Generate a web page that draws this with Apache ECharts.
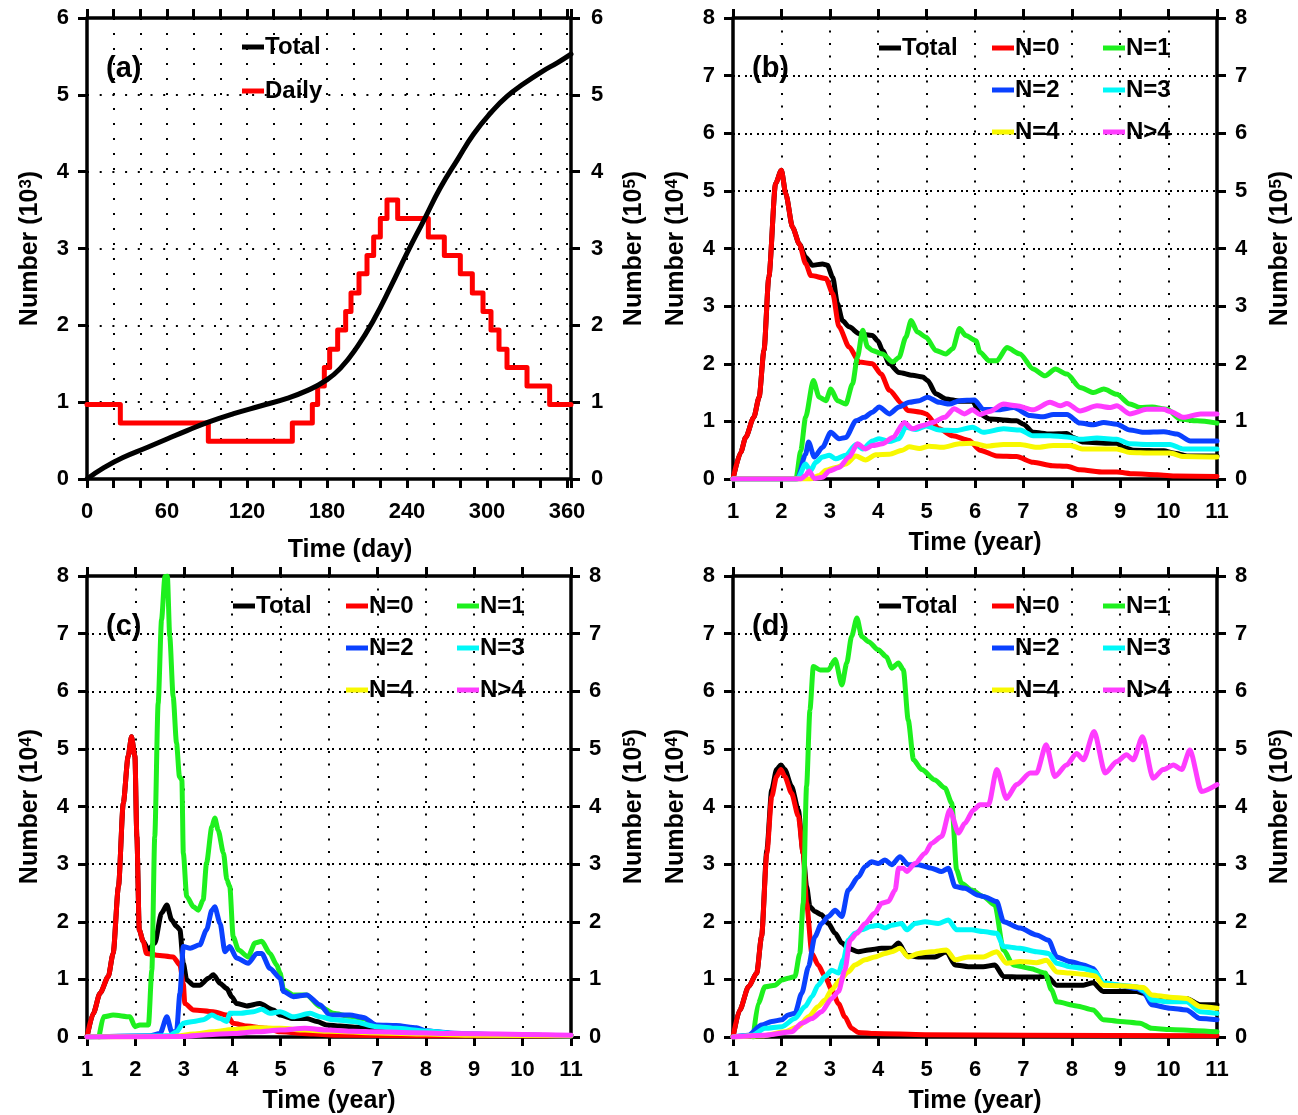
<!DOCTYPE html>
<html><head><meta charset="utf-8">
<script src="https://cdn.jsdelivr.net/npm/echarts@6/dist/echarts.min.js"></script>
<style>html,body{margin:0;padding:0;background:#fff}#c{width:1298px;height:1115px}</style>
</head><body><div id="c"></div>
<script>
// ---------------- DATA ----------------
// Panel (a): days and values (Daily step levels in 10^3, Total in 10^5)
const aDailyDays = [0,25,91,154,169,173,178,182,188,194,198,204,210,215,220,225,233,256,268,280,289,297,303,309,315,330,347,363];
const aDailyVals = [0.97,0.73,0.49,0.73,0.97,1.21,1.45,1.69,1.94,2.18,2.42,2.67,2.91,3.15,3.39,3.63,3.39,3.15,2.91,2.67,2.42,2.18,1.94,1.69,1.45,1.21,0.97,0.97];
const aTotalDays = [0,13,27,45,60,75,91,110,130,150,165,178,190,203,215,228,240,253,265,278,290,303,315,328,341,353,363];
const aTotalVals = [0,0.15,0.28,0.41,0.52,0.63,0.74,0.85,0.95,1.05,1.15,1.27,1.44,1.73,2.07,2.51,2.94,3.38,3.79,4.16,4.49,4.77,4.98,5.15,5.30,5.42,5.53];

// Panel (b): [year, number (10^4)]
const bTotal = [[1,0],[1.16,0.46],[1.26,0.72],[1.43,1.07],[1.54,1.42],[1.64,2.23],[1.74,3.5],[1.88,5.13],[2.0,5.36],[2.09,4.95],[2.23,4.37],[2.37,4.08],[2.5,3.85],[2.64,3.71],[2.85,3.73],[2.95,3.71],[3.06,3.5],[3.16,3.04],[3.26,2.75],[3.4,2.64],[3.61,2.52],[3.88,2.49],[3.99,2.4],[4.09,2.23],[4.23,2.0],[4.43,1.85],[4.71,1.8],[4.92,1.77],[5.02,1.71],[5.19,1.48],[5.4,1.39],[5.68,1.35],[5.95,1.35],[6.1,1.13],[6.3,1.04],[6.86,1.01],[7.0,0.95],[7.2,0.81],[7.55,0.78],[7.9,0.79],[8.03,0.72],[8.24,0.64],[8.8,0.62],[8.93,0.62],[9.07,0.55],[9.28,0.5],[9.9,0.49],[10.1,0.45],[10.38,0.4],[11,0.4]];
const bN0 = [[1,0],[1.16,0.46],[1.26,0.72],[1.43,1.07],[1.54,1.42],[1.64,2.23],[1.74,3.5],[1.88,5.13],[2.0,5.36],[2.09,4.95],[2.23,4.37],[2.37,4.08],[2.5,3.74],[2.61,3.53],[2.92,3.48],[3.06,3.22],[3.19,2.64],[3.4,2.29],[3.61,2.03],[3.88,2.0],[4.06,1.82],[4.23,1.54],[4.5,1.3],[4.61,1.19],[4.88,1.16],[4.99,1.13],[5.26,0.87],[5.54,0.75],[5.88,0.67],[6.1,0.5],[6.45,0.4],[6.86,0.39],[7.2,0.29],[7.6,0.23],[7.9,0.22],[8.17,0.16],[8.66,0.12],[8.93,0.12],[9.28,0.09],[9.76,0.075],[10.17,0.05],[11,0.045]];
const bN1 = [[1,0],[2.3,0],[2.4,0.49],[2.5,1.07],[2.66,1.71],[2.78,1.42],[2.92,1.36],[3.02,1.56],[3.16,1.36],[3.33,1.3],[3.47,1.65],[3.57,2.11],[3.68,2.58],[3.78,2.29],[3.88,2.23],[4.09,2.17],[4.3,2.03],[4.43,2.11],[4.57,2.46],[4.68,2.75],[4.81,2.55],[4.99,2.46],[5.19,2.23],[5.4,2.17],[5.54,2.26],[5.68,2.61],[5.81,2.49],[6.02,2.4],[6.1,2.2],[6.3,2.05],[6.45,2.05],[6.66,2.28],[6.93,2.17],[7.2,1.91],[7.45,1.79],[7.66,1.91],[7.9,1.82],[8.17,1.59],[8.45,1.5],[8.66,1.56],[8.93,1.47],[9.2,1.3],[9.41,1.24],[9.66,1.25],[9.97,1.21],[10.24,1.04],[10.59,1.01],[11,0.97]];
const bN2 = [[1,0],[2.33,0],[2.5,0.43],[2.56,0.64],[2.68,0.38],[2.85,0.55],[3.02,0.81],[3.19,0.7],[3.33,0.72],[3.54,1.01],[3.71,1.07],[3.88,1.16],[4.02,1.25],[4.23,1.13],[4.43,1.25],[4.64,1.33],[4.85,1.36],[5.02,1.42],[5.26,1.33],[5.47,1.3],[5.68,1.36],[5.99,1.37],[6.17,1.21],[6.45,1.2],[6.8,1.24],[7.14,1.1],[7.41,1.08],[7.62,1.12],[7.9,1.12],[8.17,0.97],[8.45,0.94],[8.66,0.98],[8.93,0.95],[9.2,0.85],[9.48,0.81],[9.9,0.82],[10.17,0.78],[10.45,0.66],[11,0.66]];
const bN3 = [[1,0],[2.33,0],[2.5,0.26],[2.6,0.14],[2.71,0.29],[2.85,0.38],[2.99,0.41],[3.12,0.35],[3.33,0.41],[3.54,0.6],[3.68,0.52],[3.88,0.66],[4.02,0.7],[4.23,0.65],[4.43,0.7],[4.57,0.9],[4.78,0.86],[4.99,0.92],[5.26,0.85],[5.61,0.84],[5.95,0.9],[6.17,0.81],[6.59,0.87],[6.93,0.85],[7.2,0.75],[7.55,0.75],[7.9,0.73],[8.17,0.69],[8.52,0.71],[8.93,0.69],[9.2,0.61],[9.62,0.6],[10.03,0.6],[10.31,0.52],[11,0.52]];
const bN4 = [[1,0],[2.6,0],[2.78,0.06],[2.92,0.15],[3.12,0.2],[3.33,0.26],[3.54,0.4],[3.74,0.33],[3.95,0.42],[4.23,0.43],[4.5,0.5],[4.64,0.56],[4.85,0.53],[5.05,0.57],[5.33,0.55],[5.68,0.61],[5.95,0.62],[6.24,0.57],[6.59,0.6],[6.93,0.6],[7.28,0.55],[7.62,0.58],[7.97,0.58],[8.24,0.52],[8.66,0.52],[8.93,0.52],[9.2,0.46],[9.62,0.45],[10.03,0.45],[10.31,0.39],[11,0.38]];
const bN5 = [[1,0],[2.4,0],[2.5,0.06],[2.57,0.14],[2.68,0.01],[2.85,0.03],[2.99,0.14],[3.19,0.2],[3.4,0.38],[3.57,0.61],[3.74,0.52],[3.88,0.58],[4.09,0.61],[4.3,0.72],[4.54,0.98],[4.71,0.87],[4.92,0.93],[5.12,0.98],[5.37,1.07],[5.57,1.22],[5.78,1.13],[5.95,1.2],[6.1,1.12],[6.3,1.17],[6.59,1.3],[6.86,1.27],[7.2,1.2],[7.55,1.33],[7.76,1.27],[7.9,1.31],[8.17,1.18],[8.52,1.27],[8.8,1.24],[8.93,1.27],[9.2,1.13],[9.55,1.21],[9.9,1.21],[10.03,1.17],[10.31,1.07],[10.66,1.13],[11,1.13]];

// Panel (c)
const cTotal = [[1,0],[1.13,0.41],[1.27,0.76],[1.44,1.05],[1.54,1.45],[1.65,2.61],[1.75,4.06],[1.85,4.87],[1.92,5.21],[1.99,4.87],[2.03,3.48],[2.08,1.86],[2.16,1.66],[2.27,1.51],[2.4,1.63],[2.54,2.15],[2.65,2.29],[2.75,2.03],[2.85,1.92],[2.92,1.86],[2.99,1.28],[3.06,0.99],[3.2,0.9],[3.33,0.9],[3.51,1.02],[3.61,1.08],[3.75,0.93],[3.89,0.84],[3.99,0.7],[4.09,0.58],[4.3,0.54],[4.57,0.58],[4.85,0.47],[4.99,0.38],[5.26,0.32],[5.54,0.32],[5.75,0.27],[5.95,0.21],[6.23,0.19],[6.6,0.17],[7,0.11],[7.5,0.08],[8,0.06],[9,0.04],[10,0.03],[11,0.02]];
const cN0 = [[1,0],[1.13,0.41],[1.27,0.76],[1.44,1.05],[1.54,1.45],[1.65,2.61],[1.75,4.06],[1.85,4.87],[1.92,5.21],[1.99,4.87],[2.03,3.48],[2.08,1.86],[2.16,1.66],[2.23,1.45],[2.44,1.42],[2.78,1.39],[2.92,1.25],[2.99,0.93],[3.02,0.58],[3.2,0.47],[3.61,0.44],[3.89,0.38],[4.02,0.24],[4.3,0.19],[4.71,0.15],[4.99,0.09],[5.68,0.05],[6.2,0.03],[8,0.02],[11,0.02]];
const cN1 = [[1.25,0],[1.34,0.35],[1.54,0.38],[1.89,0.35],[1.99,0.18],[2.09,0.21],[2.27,0.21],[2.34,1.16],[2.4,3.48],[2.47,5.79],[2.54,7.24],[2.61,7.99],[2.66,8.0],[2.71,6.95],[2.78,5.91],[2.85,5.1],[2.91,4.52],[2.96,4.46],[2.99,3.19],[3.06,2.44],[3.2,2.26],[3.3,2.2],[3.4,2.38],[3.47,3.02],[3.58,3.65],[3.64,3.8],[3.71,3.59],[3.82,3.19],[3.89,2.73],[3.95,2.61],[4.02,1.74],[4.13,1.51],[4.33,1.39],[4.47,1.63],[4.61,1.66],[4.78,1.45],[4.92,1.25],[4.99,1.11],[5.06,0.82],[5.26,0.73],[5.54,0.73],[5.81,0.53],[6.09,0.41],[6.43,0.36],[6.71,0.32],[6.98,0.2],[7.39,0.17],[7.81,0.14],[8.0,0.09],[8.77,0.05],[10,0.03],[11,0.02]];
const cN2 = [[1,0],[2.3,0.02],[2.51,0.06],[2.65,0.35],[2.75,0.09],[2.85,0.09],[2.92,0.76],[2.99,1.57],[3.13,1.54],[3.33,1.6],[3.47,1.86],[3.58,2.2],[3.64,2.26],[3.75,1.97],[3.85,1.48],[3.95,1.57],[4.09,1.37],[4.33,1.28],[4.51,1.45],[4.61,1.45],[4.78,1.19],[4.99,1.02],[5.06,0.79],[5.26,0.7],[5.54,0.73],[5.81,0.56],[6.02,0.38],[6.43,0.38],[6.71,0.34],[6.98,0.21],[7.39,0.2],[7.81,0.16],[8.0,0.11],[8.5,0.07],[9,0.05],[10,0.03],[11,0.02]];
const cN3 = [[1,0],[2.7,0.02],[2.85,0.09],[2.99,0.24],[3.2,0.27],[3.4,0.3],[3.58,0.38],[3.75,0.32],[3.89,0.27],[3.95,0.41],[4.16,0.41],[4.44,0.44],[4.61,0.48],[4.78,0.41],[4.99,0.44],[5.26,0.35],[5.61,0.41],[5.81,0.35],[6.09,0.3],[6.5,0.27],[6.98,0.18],[7.39,0.15],[8.0,0.1],[8.8,0.05],[10,0.03],[11,0.02]];
const cN4 = [[1,0],[2.8,0.01],[3.2,0.05],[3.6,0.09],[4.0,0.13],[4.5,0.16],[5.0,0.15],[5.5,0.12],[6.0,0.1],[7.0,0.07],[8.0,0.05],[9,0.03],[11,0.02]];
const cN5 = [[1,0],[3.0,0.01],[3.5,0.04],[4.0,0.06],[4.5,0.09],[5.0,0.12],[5.5,0.15],[6.0,0.12],[6.5,0.1],[7.0,0.09],[7.5,0.08],[8.5,0.06],[9.5,0.05],[10.5,0.04],[11,0.03]];

// Panel (d)
const dTotal = [[1,0],[1.14,0.47],[1.32,0.87],[1.49,1.11],[1.59,1.74],[1.7,3.25],[1.8,4.29],[1.9,4.64],[1.99,4.72],[2.07,4.64],[2.21,4.35],[2.35,3.94],[2.45,3.19],[2.52,2.61],[2.59,2.26],[2.69,2.18],[2.83,2.12],[2.97,1.97],[3.11,1.8],[3.25,1.63],[3.38,1.54],[3.59,1.48],[3.8,1.51],[4.07,1.54],[4.28,1.54],[4.42,1.63],[4.59,1.42],[4.83,1.39],[5.17,1.39],[5.41,1.48],[5.59,1.25],[5.86,1.22],[6.17,1.22],[6.41,1.25],[6.59,1.05],[6.93,1.04],[7.27,1.04],[7.48,1.06],[7.69,0.9],[7.96,0.9],[8.24,0.9],[8.44,0.94],[8.65,0.79],[8.93,0.79],[9.34,0.79],[9.48,0.76],[9.65,0.64],[10.03,0.63],[10.37,0.67],[10.65,0.56],[11,0.56]];
const dN0 = [[1,0],[1.14,0.47],[1.32,0.87],[1.49,1.11],[1.59,1.74],[1.7,3.19],[1.8,4.17],[1.9,4.52],[1.99,4.64],[2.07,4.52],[2.21,4.23],[2.35,3.83],[2.45,3.19],[2.52,2.32],[2.63,1.45],[2.76,1.25],[2.9,1.05],[3.04,0.82],[3.18,0.58],[3.31,0.35],[3.45,0.15],[3.59,0.08],[3.93,0.06],[4.97,0.04],[7,0.03],[11,0.02]];
const dN1 = [[1.42,0],[1.52,0.58],[1.66,0.87],[1.87,0.9],[2.01,0.99],[2.14,1.02],[2.28,1.05],[2.38,1.45],[2.45,2.32],[2.52,4.35],[2.59,5.68],[2.66,6.43],[2.8,6.37],[2.97,6.37],[3.11,6.55],[3.25,6.11],[3.35,6.49],[3.45,6.95],[3.56,7.27],[3.66,6.95],[3.8,6.86],[4.0,6.72],[4.17,6.6],[4.28,6.4],[4.42,6.49],[4.52,6.37],[4.62,5.5],[4.73,4.81],[4.9,4.64],[5.17,4.46],[5.38,4.32],[5.52,4.06],[5.62,2.9],[5.72,2.67],[5.93,2.55],[6.17,2.44],[6.41,2.29],[6.59,1.51],[6.79,1.25],[7.14,1.19],[7.45,1.11],[7.58,0.82],[7.69,0.61],[8.1,0.54],[8.44,0.47],[8.65,0.3],[9.0,0.27],[9.41,0.24],[9.65,0.15],[10.03,0.13],[10.58,0.11],[11,0.09]];
const dN2 = [[1,0],[1.32,0.03],[1.59,0.21],[1.8,0.27],[2.01,0.3],[2.14,0.38],[2.28,0.41],[2.42,0.76],[2.56,1.22],[2.69,1.74],[2.83,1.97],[2.97,2.09],[3.11,2.2],[3.25,2.09],[3.38,2.55],[3.59,2.78],[3.73,2.96],[3.86,3.04],[4.0,3.01],[4.14,3.07],[4.28,2.99],[4.45,3.13],[4.62,2.99],[4.83,2.99],[5.1,2.93],[5.31,2.87],[5.45,2.93],[5.59,2.61],[5.79,2.58],[6.07,2.46],[6.17,2.44],[6.45,2.35],[6.59,2.0],[6.93,1.89],[7.27,1.77],[7.52,1.68],[7.69,1.39],[7.96,1.31],[8.24,1.25],[8.44,1.19],[8.65,0.93],[9.0,0.89],[9.34,0.84],[9.48,0.79],[9.65,0.56],[10.03,0.5],[10.37,0.47],[10.65,0.32],[11,0.3]];
const dN3 = [[1,0],[1.4,0.03],[1.66,0.15],[2.01,0.18],[2.28,0.32],[2.49,0.53],[2.63,0.7],[2.76,0.9],[2.9,1.05],[3.04,1.16],[3.18,1.11],[3.28,1.34],[3.38,1.68],[3.52,1.8],[3.66,1.86],[3.86,1.92],[4.0,1.94],[4.14,1.89],[4.28,1.94],[4.48,1.97],[4.59,1.86],[4.76,1.97],[4.97,2.0],[5.24,1.97],[5.45,2.03],[5.62,1.86],[5.93,1.86],[6.17,1.83],[6.45,1.8],[6.59,1.57],[6.93,1.54],[7.27,1.48],[7.52,1.45],[7.69,1.28],[7.96,1.22],[8.24,1.19],[8.48,1.13],[8.65,0.94],[9.0,0.9],[9.34,0.87],[9.51,0.79],[9.65,0.64],[10.03,0.61],[10.37,0.61],[10.65,0.44],[11,0.41]];
const dN4 = [[1,0],[1.6,0.02],[2.07,0.09],[2.35,0.18],[2.56,0.35],[2.76,0.53],[2.9,0.64],[3.04,0.82],[3.21,0.99],[3.38,1.13],[3.52,1.25],[3.73,1.34],[3.93,1.39],[4.14,1.45],[4.28,1.48],[4.45,1.54],[4.62,1.39],[4.83,1.45],[5.1,1.48],[5.41,1.51],[5.59,1.34],[5.86,1.39],[6.17,1.39],[6.45,1.48],[6.65,1.28],[6.93,1.31],[7.27,1.29],[7.48,1.33],[7.69,1.13],[7.96,1.11],[8.24,1.09],[8.48,1.06],[8.65,0.9],[9.0,0.89],[9.48,0.86],[9.65,0.73],[10.03,0.69],[10.37,0.67],[10.65,0.53],[11,0.5]];
const dN5 = [[1,0],[1.66,0.03],[2.21,0.09],[2.42,0.24],[2.63,0.32],[2.83,0.44],[3.04,0.67],[3.18,0.79],[3.31,1.16],[3.42,1.68],[3.56,1.8],[3.73,1.97],[3.93,2.15],[4.07,2.32],[4.21,2.35],[4.35,2.55],[4.42,2.93],[4.52,2.93],[4.59,2.87],[4.76,3.01],[4.97,3.19],[5.1,3.36],[5.31,3.48],[5.48,3.94],[5.66,3.54],[5.79,3.71],[5.97,3.94],[6.1,4.03],[6.28,4.03],[6.45,4.64],[6.65,4.14],[6.86,4.38],[7.14,4.58],[7.27,4.58],[7.47,5.07],[7.65,4.52],[7.89,4.72],[8.1,4.92],[8.24,4.81],[8.46,5.3],[8.69,4.58],[8.93,4.78],[9.13,4.9],[9.27,4.81],[9.46,5.21],[9.68,4.49],[9.89,4.64],[10.1,4.72],[10.27,4.64],[10.44,4.98],[10.68,4.26],[11,4.38]];

const panelLabels = ['(a)','(b)','(c)','(d)'];
const seriesNames = ['Total','N=0','N=1','N=2','N=3','N=4','N>4'];
const xNames = ['Time (day)','Time (year)','Time (year)','Time (year)'];
const yLeftNames = ['Number (10{s|3})','Number (10{s|4})','Number (10{s|4})','Number (10{s|4})'];
const yRightNames = ['Number (10{s|5})','Number (10{s|5})','Number (10{s|5})','Number (10{s|5})'];
const aXLabelStep = 60;

// ---------------- STYLE / LAYOUT ----------------
const FONT = 'Liberation Sans, Arial, Helvetica, sans-serif';
const COLORS = {'Total':'#000000','Daily':'#ff0000','N=0':'#ff0000','N=1':'#1ef01e','N=2':'#0a41ff','N=3':'#00f8f8','N=4':'#f8f800','N>4':'#ff3cff'};
const grids = [
  {left:87, top:18, width:484, height:461},
  {left:733, top:18, width:484, height:461},
  {left:87, top:576, width:484, height:461},
  {left:733, top:576, width:484, height:461}
];
const axisLine = {show:true, onZero:false, lineStyle:{color:'#000', width:3.5}};
const axisTick = {show:true, length:9, lineStyle:{color:'#000', width:3}};
const baseLabel = {color:'#000', fontSize:22, fontWeight:'bold', fontFamily:FONT, showMinLabel:true, showMaxLabel:true, hideOverlap:false};
const xLabelStyle = Object.assign({}, baseLabel, {margin:22});
const yLabelStyle = Object.assign({}, baseLabel, {margin:18});
const nameStyle = {color:'#000', fontSize:25, fontWeight:'bold', fontFamily:FONT,
  rich:{s:{fontSize:17, fontWeight:'bold', fontFamily:FONT, color:'#000', verticalAlign:'top', lineHeight:15}}};

const xAxes = [], yAxes = [], series = [], legends = [], graphics = [];

function addPanel(p, xmin, xmax, xint, ymax, vDash, hDash, xNameGap, xNamePad, rightGap, labelFmt) {
  xAxes.push({gridIndex:p, type:'value', position:'bottom', min:xmin, max:xmax, interval:xint,
    axisLine, axisTick, axisLabel:Object.assign({}, xLabelStyle, labelFmt ? {formatter:labelFmt} : {}),
    splitLine:{show:true, lineStyle:{color:'#000', width:2, type:vDash, cap:'butt'}},
    name:xNames[p], nameLocation:'middle', nameGap:xNameGap,
    nameTextStyle:Object.assign({}, nameStyle, {padding:xNamePad})});
  xAxes.push({gridIndex:p, type:'value', position:'top', min:xmin, max:xmax, interval:xint,
    axisLine, axisTick, axisLabel:{show:false}, splitLine:{show:false}});
  yAxes.push({gridIndex:p, type:'value', position:'left', min:0, max:ymax, interval:1,
    axisLine, axisTick, axisLabel:yLabelStyle,
    splitLine:{show:true, lineStyle:{color:'#000', width:2, type:hDash, cap:'butt'}},
    name:yLeftNames[p], nameLocation:'middle', nameRotate:90, nameGap:44, nameTextStyle:nameStyle});
  yAxes.push({gridIndex:p, type:'value', position:'right', min:0, max:ymax, interval:1,
    axisLine, axisTick, axisLabel:Object.assign({}, yLabelStyle, {margin:p === 0 ? 20 : 18}), splitLine:{show:false},
    name:yRightNames[p], nameLocation:'middle', nameRotate:90, nameGap:rightGap, nameTextStyle:nameStyle});
}

addPanel(0, 0, 363, 20, 6, [2,13], [2,10.7], 59, [0,0,0,42], 51, v => (v % aXLabelStep === 0 ? String(v) : ''));
addPanel(1, 1, 11, 1, 8, [2,10.5], [2,3,2,5], 52, [0,0,0,0], 51);
addPanel(2, 1, 11, 1, 8, [2,10.5], [2,3,2,5], 52, [0,0,0,0], 51);
addPanel(3, 1, 11, 1, 8, [2,10.5], [2,3,2,5], 52, [0,0,0,0], 51);

function line(name, data, p, yIdx, extra) {
  return Object.assign({type:'line', name, data, xAxisIndex:2*p, yAxisIndex:yIdx,
    showSymbol:false, symbol:'none', color:COLORS[name], animation:false,
    lineStyle:{width:5, color:COLORS[name], join:'round', cap:'round'}}, extra || {});
}

// panel (a)
series.push(line('Daily', aDailyDays.map((d,i)=>[d, aDailyVals[i]]), 0, 0, {step:'end'}));
series.push(line('Total', aTotalDays.map((d,i)=>[d, aTotalVals[i]]), 0, 1, {smooth:0.5}));

const panelData = [null,
  [bTotal,bN0,bN1,bN2,bN3,bN4,bN5],
  [cTotal,cN0,cN1,cN2,cN3,cN4,cN5],
  [dTotal,dN0,dN1,dN2,dN3,dN4,dN5]];
for (let p = 1; p <= 3; p++) {
  panelData[p].forEach((d, i) => {
    series.push(line(seriesNames[i], d, p, 2*p, {smooth:0.25, smoothMonotone:'x'}));
  });
}

// legends
function leg(name, left, yc) {
  return {data:[name], left, top:yc-12, orient:'horizontal', icon:'rect', itemWidth:22, itemHeight:5,
    padding:0, itemGap:0, selectedMode:false,
    textStyle:{fontSize:24, fontWeight:'bold', fontFamily:FONT, color:'#000', lineHeight:24, padding:[0,0,0,-4]}};
}
legends.push(leg('Total', 242, 47), leg('Daily', 242, 91));
const legCols = [146, 259, 370];
const legRows = [30, 72, 114];
const legPos = [['Total',0,0],['N=0',1,0],['N=1',2,0],['N=2',1,1],['N=3',2,1],['N=4',1,2],['N>4',2,2]];
for (let p = 1; p <= 3; p++) {
  const g = grids[p];
  legPos.forEach(([n,c,r]) => legends.push(leg(n, g.left + legCols[c], g.top + legRows[r])));
}

// panel labels
grids.forEach((g, p) => {
  graphics.push({type:'text', left:g.left + 19, top:g.top + 36,
    style:{text:panelLabels[p], fontSize:29, fontWeight:'bold', fontFamily:FONT, fill:'#000'}});
});

const option = {
  animation:false,
  backgroundColor:'#ffffff',
  grid:grids,
  xAxis:xAxes,
  yAxis:yAxes,
  legend:legends,
  graphic:graphics,
  series:series
};
const chart = echarts.init(document.getElementById('c'), null, {renderer:'canvas'});
chart.setOption(option);
</script></body></html>
